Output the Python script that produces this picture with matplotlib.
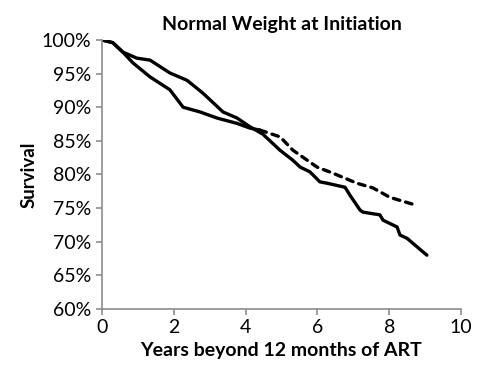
import matplotlib.pyplot as plt

plt.rcParams['font.family'] = ['Lato', 'DejaVu Sans']

# survival curve that ends lower (solid all the way)
years_a = [0, 0.3, 0.58, 0.97, 1.34, 1.89, 2.37, 2.81, 3.37, 3.76, 4.12, 4.48,
           4.96, 5.32, 5.52, 5.79, 6.07, 6.27, 6.77, 6.91, 7.10, 7.19, 7.27,
           7.74, 7.83, 8.22, 8.30, 8.50, 9.05]
surv_a = [100, 99.6, 98.2, 97.3, 97.0, 95.1, 94.0, 92.1, 89.3, 88.4, 87.1, 86.0,
          83.6, 82.1, 81.1, 80.4, 78.9, 78.7, 78.1, 76.9, 75.4, 74.7, 74.4,
          74.0, 73.2, 72.2, 71.0, 70.5, 68.0]

# second curve: solid early, dashed after ~4.4 years
years_b = [0, 0.3, 0.58, 0.86, 1.34, 1.89, 2.26, 2.73, 3.20, 3.76, 4.12, 4.40]
surv_b = [100, 99.6, 98.2, 96.6, 94.5, 92.6, 90.0, 89.3, 88.4, 87.6, 86.9, 86.6]
years_b_dash = [4.40, 4.96, 5.32, 5.99, 6.43, 7.10, 7.55, 8.02, 8.77]
surv_b_dash = [86.6, 85.6, 83.6, 81.1, 80.2, 78.7, 78.0, 76.6, 75.4]

fig = plt.figure(figsize=(4.78, 3.73), dpi=100)
ax = fig.add_axes([0.2134, 0.1716, 0.751, 0.7212])

ax.plot(years_a, surv_a, color='black', lw=2.4, solid_capstyle='round')
ax.plot(years_b, surv_b, color='black', lw=2.4, solid_capstyle='round')
ax.plot(years_b_dash, surv_b_dash, color='black', lw=2.4,
        linestyle=(0, (2.0, 1.8)), dash_capstyle='round')

ax.set_xlim(0, 10)
ax.set_ylim(60, 100)
ax.set_xticks(range(0, 11, 2))
ax.set_yticks(range(60, 101, 5))
ax.set_yticklabels([f'{v}%' for v in range(60, 101, 5)])

for s in ['top', 'right']:
    ax.spines[s].set_visible(False)
for s in ['left', 'bottom']:
    ax.spines[s].set_color('#8c8c8c')
    ax.spines[s].set_linewidth(1.2)
ax.tick_params(colors='#8c8c8c', labelcolor='black', labelsize=14,
               direction='out', length=4, width=1.2)

ax.set_title('Normal Weight at Initiation', fontsize=14, fontweight='bold', pad=7)
ax.set_xlabel('Years beyond 12 months of ART', fontsize=14, fontweight='bold', labelpad=4)
ax.set_ylabel('Survival', fontsize=13.5, fontweight='bold', labelpad=3)

fig.savefig('out.png', dpi=100)
